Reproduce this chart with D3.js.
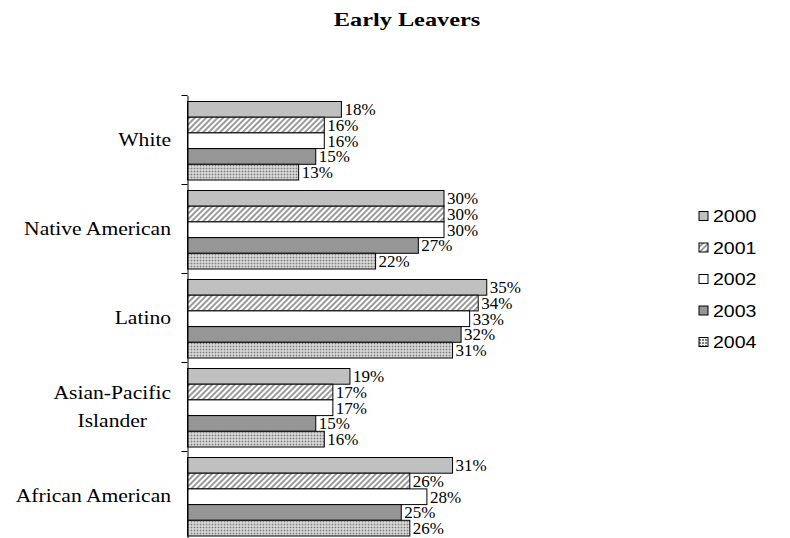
<!DOCTYPE html>
<html>
<head>
<meta charset="utf-8">
<script src="https://cdn.jsdelivr.net/npm/d3@7"></script>
<style>
  body { margin: 0; background: #fff; }
  svg { display: block; }
</style>
</head>
<body>
<div id="graph"></div>
<script>
// chart data
var groups = ["White", "Native American", "Latino", "Asian-Pacific Islander", "African American"];
var years = ["2000", "2001", "2002", "2003", "2004"];
var white = [18, 16, 16, 15, 13];
var nativeAmerican = [30, 30, 30, 27, 22];
var latino = [35, 34, 33, 32, 31];
var asianPacific = [19, 17, 17, 15, 16];
var africanAmerican = [31, 26, 28, 25, 26];
var values = [white, nativeAmerican, latino, asianPacific, africanAmerican];

var width = 790, height = 538;
var serif = "'Liberation Serif', 'Times New Roman', serif";

var svg = d3.select("#graph").append("svg")
    .attr("width", width)
    .attr("height", height);

// fill patterns for the years
var defs = svg.append("defs");

var hatch = defs.append("pattern")
    .attr("id", "hatch")
    .attr("patternUnits", "userSpaceOnUse")
    .attr("width", 4).attr("height", 4)
    .attr("patternTransform", "rotate(45)");
hatch.append("rect").attr("width", 4).attr("height", 4).attr("fill", "#fff");
hatch.append("rect").attr("width", 2).attr("height", 4).attr("fill", "#9a9a9a");

var dots = defs.append("pattern")
    .attr("id", "dots")
    .attr("patternUnits", "userSpaceOnUse")
    .attr("width", 3).attr("height", 3);
dots.append("rect").attr("width", 3).attr("height", 3).attr("fill", "#f4f4f4");
dots.append("rect").attr("width", 2).attr("height", 2).attr("fill", "#7f7f7f");

var fills = ["#c0c0c0", "url(#hatch)", "#ffffff", "#969696", "url(#dots)"];

// scales
var axisX = 187.5;
var x = d3.scaleLinear().domain([0, 40]).range([0, 342]);
var y = d3.scaleBand().domain(groups).range([95.5, 540.5]);
var yInner = d3.scaleBand().domain(years).range([6, 84.5]);

// the reference text is a bit wider than the fonts here, so stretch it sideways
function stretched(px, py, sx) {
  return svg.append("text")
      .attr("transform", "translate(" + px + "," + py + ") scale(" + sx + ",1)");
}

// title
stretched(407, 26, 1.28)
    .attr("text-anchor", "middle")
    .style("font-family", serif)
    .style("font-weight", "bold")
    .style("font-size", "19px")
    .text("Early Leavers");

// bars
var g = svg.append("g");
groups.forEach(function(grp, i) {
  var row = g.append("g").attr("transform", "translate(" + axisX + "," + y(grp) + ")");
  values[i].forEach(function(v, j) {
    row.append("rect")
        .attr("x", 0)
        .attr("y", yInner(years[j]))
        .attr("width", x(v))
        .attr("height", yInner.bandwidth())
        .attr("fill", fills[j])
        .attr("stroke", "#000")
        .attr("stroke-width", 1);
    row.append("text")
        .attr("x", x(v) + 3)
        .attr("y", yInner(years[j]) + yInner.bandwidth() / 2)
        .attr("dy", "0.35em")
        .style("font-family", serif)
        .style("font-size", "17px")
        .text(v + "%");
  });
});

// Y axis
svg.append("g")
    .attr("transform", "translate(" + axisX + ",0)")
    .call(d3.axisLeft(y).tickSize(0).tickFormat(""))
    .call(function(a) { a.select(".domain").attr("stroke", "#000"); });

// ticks between categories
var bounds = groups.map(function(d) { return y(d); }).concat([y.range()[1]]);
svg.append("g").selectAll("line")
    .data(bounds).enter().append("line")
    .attr("x1", axisX - 6).attr("x2", axisX)
    .attr("y1", function(d) { return d; })
    .attr("y2", function(d) { return d; })
    .attr("stroke", "#000");

// category labels, wrapped lines centred on each other, right edge at 171
var labelLines = {"Asian-Pacific Islander": ["Asian-Pacific", "Islander"]};
var sxLabel = 1.2;
groups.forEach(function(grp) {
  var lines = labelLines[grp] || [grp];
  var cy = y(grp) + y.bandwidth() / 2;
  var texts = lines.map(function(l, k) {
    return stretched(0, cy + (k - (lines.length - 1) / 2) * 28, sxLabel)
        .attr("text-anchor", "middle")
        .attr("dy", "0.35em")
        .style("font-family", serif)
        .style("font-size", "18px")
        .text(l);
  });
  var w = d3.max(texts, function(t) { return t.node().getComputedTextLength(); }) * sxLabel;
  texts.forEach(function(t, k) {
    t.attr("transform", "translate(" + (171 - w / 2) + "," + (cy + (k - (lines.length - 1) / 2) * 28) + ") scale(" + sxLabel + ",1)");
  });
});

// legend
var legend = svg.append("g");
years.forEach(function(yr, j) {
  var ly = 216 + j * 31.5;
  legend.append("rect")
      .attr("x", 699).attr("y", ly - 4.5)
      .attr("width", 9).attr("height", 9)
      .attr("fill", fills[j])
      .attr("stroke", "#000");
  stretched(713, ly, 1.15)
      .attr("dy", "0.36em")
      .style("font-family", "'Liberation Sans', Arial, sans-serif")
      .style("font-size", "17px")
      .text(yr);
});
</script>
</body>
</html>
